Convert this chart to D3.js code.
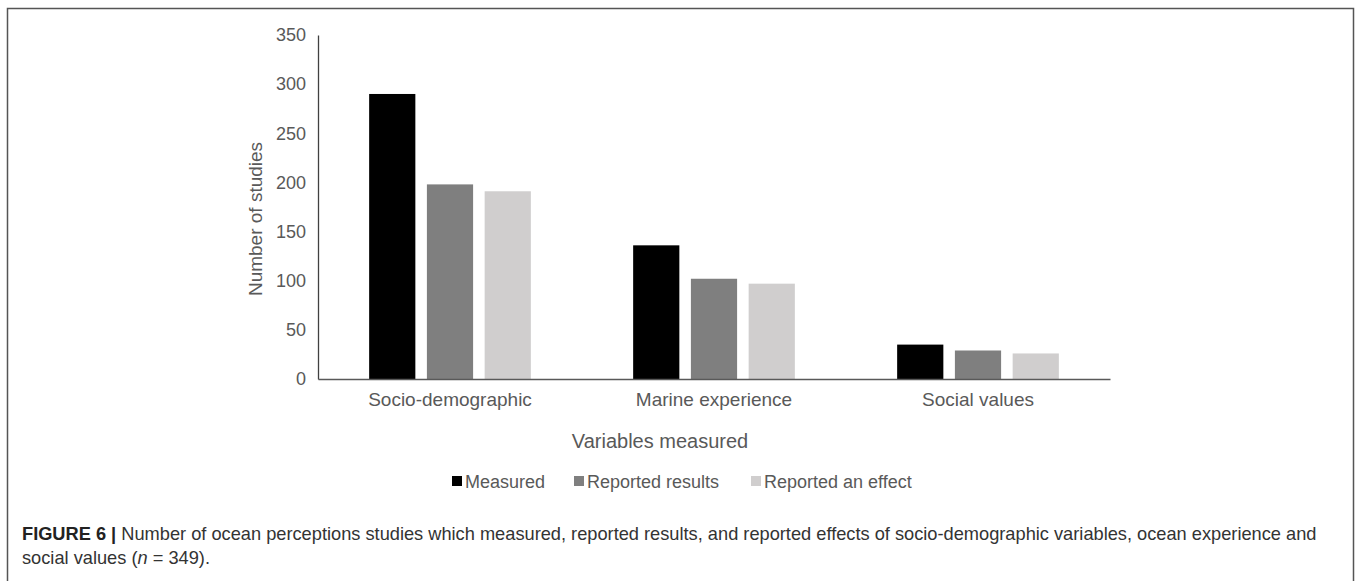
<!DOCTYPE html>
<html>
<head>
<meta charset="utf-8">
<script src="https://cdn.jsdelivr.net/npm/d3@7"></script>
<style>
  html, body { margin: 0; padding: 0; background: #fff; }
  svg { display: block; }
</style>
</head>
<body>
<svg id="chart" width="1357" height="581"></svg>
<script>
// Study counts per variable group
const categories = ["Socio-demographic", "Marine experience", "Social values"];
const seriesNames = ["Measured", "Reported results", "Reported an effect"];
const measured = [290, 136, 35];
const reportedResults = [198, 102, 29];
const reportedEffect = [191, 97, 26];
const yTicks = [0, 50, 100, 150, 200, 250, 300, 350];
const seriesColors = ["#000000", "#7f7f7f", "#d0cece"];

const seriesValues = [measured, reportedResults, reportedEffect];

const svg = d3.select("#chart");
const textColor = "#595959";
const font = "'Liberation Sans', Arial, sans-serif";

// Outer figure frame (open at the bottom)
svg.append("path")
  .attr("d", "M7.5,581 V8.5 H1353.5 V581")
  .attr("fill", "none")
  .attr("stroke", "#555")
  .attr("stroke-width", 1.5);

const plot = { left: 318, right: 1110, top: 35, bottom: 379 };

const x = d3.scaleBand()
  .domain(categories)
  .range([plot.left, plot.right]);

const y = d3.scaleLinear()
  .domain([0, 350])
  .range([plot.bottom, plot.top]);

// Bars within each category band
const barW = x.bandwidth() * 0.175;
const barGap = barW * 0.25;
const groupW = 3 * barW + 2 * barGap;
const xs = d3.scaleBand().domain(seriesNames).range([0, groupW]).paddingInner(barGap / (barW + barGap));

const rows = [];
categories.forEach((c, i) => {
  seriesNames.forEach((s, j) => {
    rows.push({ cat: c, series: s, value: seriesValues[j][i], color: seriesColors[j] });
  });
});

svg.append("g").selectAll("rect")
  .data(rows)
  .join("rect")
  .attr("x", d => x(d.cat) + (x.bandwidth() - groupW) / 2 + xs(d.series))
  .attr("width", xs.bandwidth())
  .attr("y", d => y(d.value))
  .attr("height", d => y(0) - y(d.value))
  .attr("fill", d => d.color);

// Y axis
const yAxis = svg.append("g")
  .attr("transform", `translate(${plot.left},0)`)
  .call(d3.axisLeft(y).tickValues(yTicks).tickSize(0).tickPadding(12));
yAxis.select(".domain").attr("stroke", "#404040").attr("stroke-width", 1.3);
yAxis.selectAll("text")
  .attr("fill", textColor)
  .attr("font-family", font)
  .attr("font-size", 18);

// X axis
const xAxis = svg.append("g")
  .attr("transform", `translate(0,${plot.bottom})`)
  .call(d3.axisBottom(x).tickSize(0).tickPadding(14));
xAxis.select(".domain").attr("stroke", "#595959").attr("stroke-width", 1.5);
xAxis.selectAll("text")
  .attr("fill", textColor)
  .attr("font-family", font)
  .attr("font-size", 19);

// Axis titles
svg.append("text")
  .attr("transform", `translate(262,${(plot.top + plot.bottom) / 2 + 12}) rotate(-90)`)
  .attr("text-anchor", "middle")
  .attr("fill", textColor)
  .attr("font-family", font)
  .attr("font-size", 19)
  .text("Number of studies");

svg.append("text")
  .attr("x", 660)
  .attr("y", 448)
  .attr("text-anchor", "middle")
  .attr("fill", textColor)
  .attr("font-family", font)
  .attr("font-size", 20)
  .text("Variables measured");

// Legend
const legendX = [452, 574, 751];
const legend = svg.append("g");
seriesNames.forEach((s, j) => {
  const g = legend.append("g").attr("transform", `translate(${legendX[j]},481)`);
  g.append("rect").attr("x", 0).attr("y", -5).attr("width", 10).attr("height", 10).attr("fill", seriesColors[j]);
  g.append("text")
    .attr("x", 13).attr("y", 6.5)
    .attr("fill", textColor)
    .attr("font-family", font)
    .attr("font-size", 18)
    .text(s);
});

// Caption, set in a condensed face by squeezing horizontally
const capLeft = 22, capRight = 1317;
const capGroup = svg.append("g");
const cap1 = capGroup.append("text")
  .attr("x", 0).attr("y", 540)
  .attr("fill", "#333")
  .attr("font-family", font)
  .attr("font-size", 18);
cap1.append("tspan").attr("font-weight", "bold").attr("fill", "#222").text("FIGURE 6 | ");
cap1.append("tspan").text("Number of ocean perceptions studies which measured, reported results, and reported effects of socio-demographic variables, ocean experience and");

const cap2 = capGroup.append("text")
  .attr("x", 0).attr("y", 564)
  .attr("fill", "#333")
  .attr("font-family", font)
  .attr("font-size", 18);
cap2.append("tspan").text("social values (");
cap2.append("tspan").attr("font-style", "italic").text("n");
cap2.append("tspan").text(" = 349).");

const natural = cap1.node().getComputedTextLength();
const sx = (capRight - capLeft) / natural;
capGroup.attr("transform", `translate(${capLeft},0) scale(${sx},1)`);
</script>
</body>
</html>
